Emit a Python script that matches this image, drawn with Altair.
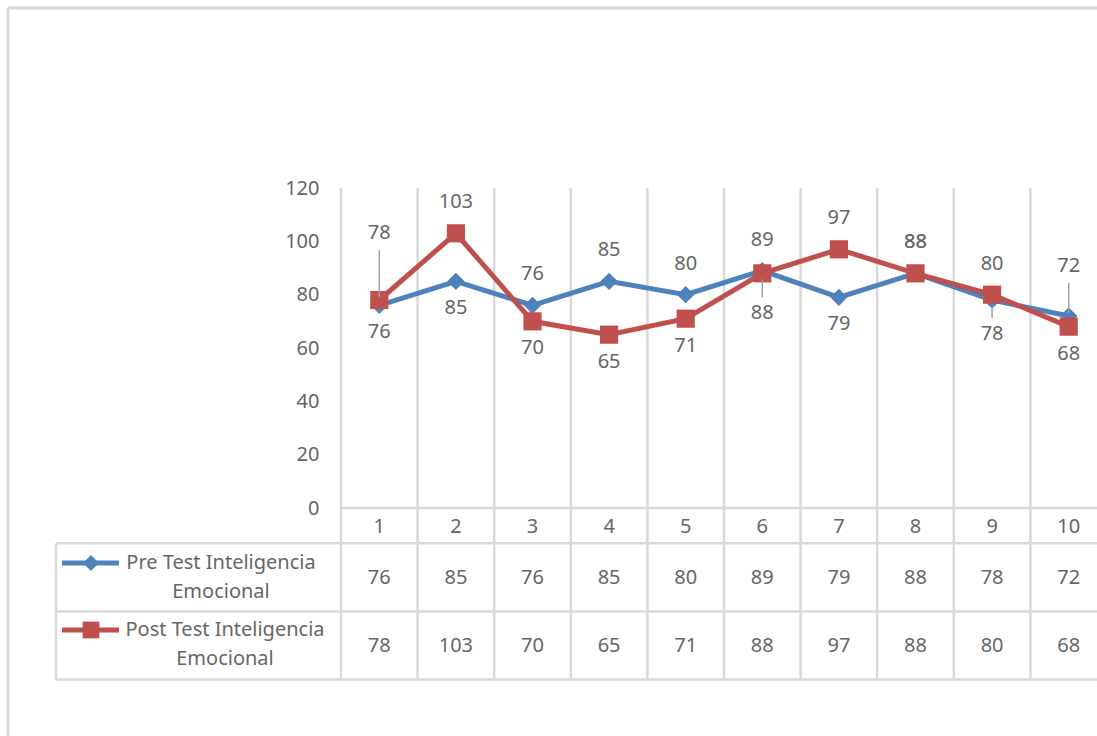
import altair as alt
import pandas as pd

# Scores per participant
participants = [1, 2, 3, 4, 5, 6, 7, 8, 9, 10]
pre_scores = [76, 85, 76, 85, 80, 89, 79, 88, 78, 72]
post_scores = [78, 103, 70, 65, 71, 88, 97, 88, 80, 68]
series_names = ["Pre Test Inteligencia Emocional", "Post Test Inteligencia Emocional"]
series_colors = ["#4f81bd", "#c0504d"]
y_ticks = [0, 20, 40, 60, 80, 100, 120]

FONT = "Noto Sans"
TXT = "#666666"
GRID = "#d9d9d9"
FS = 20

W, H = 756, 320
PX_PER_UNIT = H / 120

# Labels that were dragged away from their points (pixel offset, + is down)
label_moves = {(1, 1): -67, (1, 6): 40, (0, 9): 34, (0, 10): -50}
ABOVE, BELOW = -31, 27

# Long table; a data label sits above its point when it is the higher of the pair
rows = []
leaders = []
for i, c in enumerate(participants):
    vals = [pre_scores[i], post_scores[i]]
    for s in range(2):
        v, other = vals[s], vals[1 - s]
        dy = ABOVE if v >= other else BELOW
        if (s, c) in label_moves:
            dy = label_moves[(s, c)]
            a, b = (dy + 17, -3) if dy < 0 else (6, dy - 16)
            leaders.append({"cat": c, "y1": v - a / PX_PER_UNIT, "y2": v - b / PX_PER_UNIT})
        rows.append({"cat": c, "series": series_names[s], "value": v,
                     "label_y": v - dy / PX_PER_UNIT})
df = pd.DataFrame(rows)
leader_df = pd.DataFrame(leaders)

bounds = pd.DataFrame({"b": [c - 0.5 for c in participants]})
cats = pd.DataFrame({"cat": participants})
one = pd.DataFrame({"k": [0]})
legend_df = pd.DataFrame({
    "series": series_names,
    "label": [n.rsplit(" ", 1)[0] + "\n" + n.rsplit(" ", 1)[1] for n in series_names],
})

xscale = alt.Scale(domain=[0.5, 0.5 + W / 76.6], nice=False, zero=False)
yscale = alt.Scale(domain=[0, 120], nice=False)
yaxis = alt.Axis(values=y_ticks, domain=False, ticks=False, grid=False, labelPadding=22,
                 labelFont=FONT, labelFontSize=FS, labelColor=TXT, title=None)
X = alt.X("cat:Q", scale=xscale, axis=None)
Y = alt.Y("value:Q", scale=yscale, axis=yaxis)

layers = []

# Outer chart frame (left and top edges)
layers.append(alt.Chart(one).mark_rule(color=GRID, strokeWidth=3).encode(
    x=alt.value(-333), y=alt.value(-180), y2=alt.value(560)))
layers.append(alt.Chart(one).mark_rule(color=GRID, strokeWidth=3).encode(
    x=alt.value(-333), x2=alt.value(W + 10), y=alt.value(-180)))

# Category boundaries, running through plot and data table
layers.append(alt.Chart(bounds).mark_rule(color=GRID, strokeWidth=2.5).encode(
    x=alt.X("b:Q", scale=xscale, axis=None), y=alt.value(0), y2=alt.value(491.5)))

# Data table horizontal rules
layers.append(alt.Chart(one).mark_rule(color=GRID, strokeWidth=2.5).encode(
    x=alt.value(0), x2=alt.value(W + 10), y=alt.value(H)))
for yy in [355.3, 423.5, 491.5]:
    layers.append(alt.Chart(one).mark_rule(color=GRID, strokeWidth=2.5).encode(
        x=alt.value(-285), x2=alt.value(W + 10), y=alt.value(yy)))
layers.append(alt.Chart(one).mark_rule(color=GRID, strokeWidth=2.5).encode(
    x=alt.value(-285), y=alt.value(355.3), y2=alt.value(491.5)))

# Series lines and markers
shapes = ["diamond", "square"]
sizes = [300, 330]
for name, col, shp, sz in zip(series_names, series_colors, shapes, sizes):
    base = alt.Chart(df).transform_filter(alt.datum.series == name)
    layers.append(base.mark_line(color=col, strokeWidth=5).encode(x=X, y=Y))
    layers.append(base.mark_point(color=col, filled=True, opacity=1, shape=shp, size=sz).encode(x=X, y=Y))

# Leader lines for moved labels
layers.append(alt.Chart(leader_df).mark_rule(color="#a0a0a0", strokeWidth=1.5).encode(
    x=X, y=alt.Y("y1:Q", scale=yscale, axis=yaxis), y2="y2:Q"))

# Data labels
lbl = dict(font=FONT, fontSize=FS, color=TXT, baseline="middle", align="center")
layers.append(alt.Chart(df).mark_text(**lbl).encode(
    x=X, y=alt.Y("label_y:Q", scale=yscale, axis=yaxis), text="value:Q"))

# Data table: category row and value rows
layers.append(alt.Chart(cats).mark_text(**lbl).encode(
    x=X, y=alt.value(338.5), text="cat:Q"))
row_y = [390, 457.7]
for name, ry in zip(series_names, row_y):
    layers.append(alt.Chart(df).transform_filter(alt.datum.series == name).mark_text(**lbl).encode(
        x=X, y=alt.value(ry), text="value:Q"))

# Legend keys inside the table
legend_line_y = [375, 442]
legend_text_x = [-120, -116]
for name, col, shp, sz, ly, tx in zip(series_names, series_colors, shapes, sizes,
                                      legend_line_y, legend_text_x):
    layers.append(alt.Chart(one).mark_rule(color=col, strokeWidth=5).encode(
        x=alt.value(-279), x2=alt.value(-222), y=alt.value(ly)))
    layers.append(alt.Chart(one).mark_point(color=col, filled=True, opacity=1, shape=shp,
                                            size=sz * 0.85).encode(
        x=alt.value(-250), y=alt.value(ly)))
    layers.append(alt.Chart(legend_df).transform_filter(alt.datum.series == name).mark_text(
        lineBreak="\n", lineHeight=29, **lbl).encode(
        x=alt.value(tx), y=alt.value(ly), text="label:N"))

chart = alt.layer(*layers).properties(
    width=W, height=H,
    autosize=alt.AutoSizeParams(type="none"),
    padding={"left": 341, "top": 188, "right": 0, "bottom": 228},
    background="white",
).configure_view(stroke=None)

chart.save("out.html", embed_options={"renderer": "svg", "actions": False})
